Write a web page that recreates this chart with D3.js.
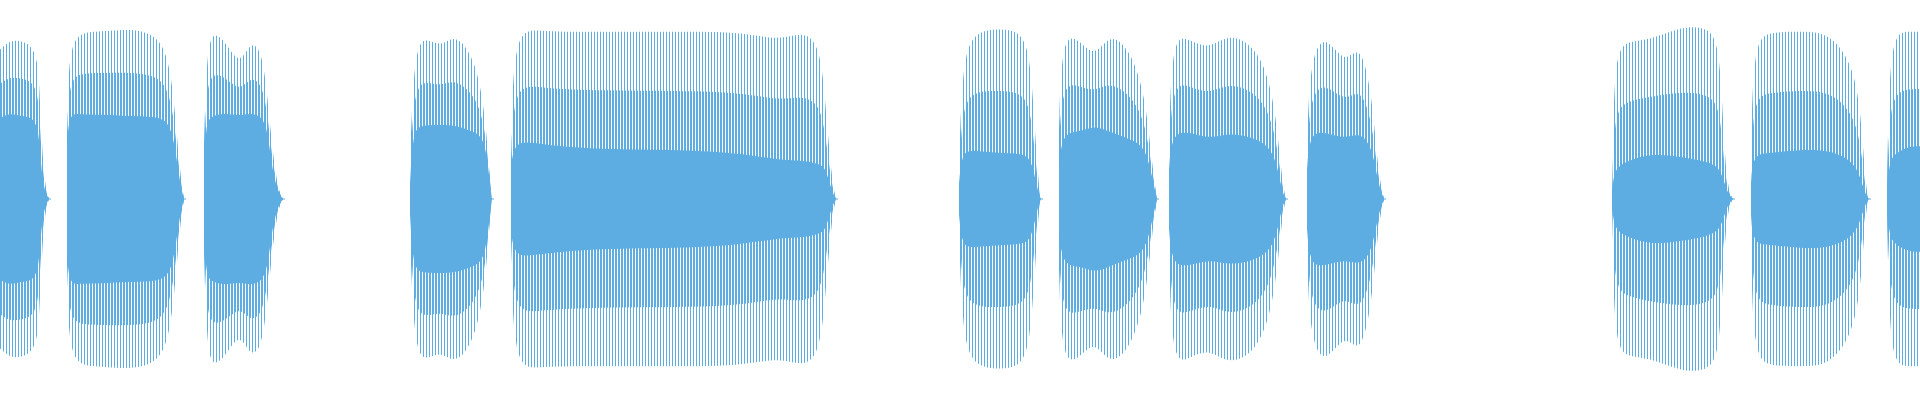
<!DOCTYPE html>
<html>
<head>
<meta charset="utf-8">
<script src="https://cdn.jsdelivr.net/npm/d3@7"></script>
<style>
  body { margin: 0; background: #fff; }
  svg { display: block; }
</style>
</head>
<body>
<svg id="chart" width="1920" height="400"></svg>
<script>
// time in seconds, amplitude normalised to [-1, 1]
// each burst: [time, dense core amplitude, peak amplitude]
var burst1 = [[0.00, .46, .85], [0.10, .49, .90], [0.20, .47, .90], [0.30, .47, .88], [0.38, .42, .80], [0.40, .26, .55], [0.43, .09, .20], [0.46, .03, .05], [0.49, 0, 0]];
var burst2 = [[0.67, .30, .45], [0.69, .49, .85], [0.80, .48, .95], [1.00, .48, .95], [1.30, .47, .97], [1.60, .47, .93], [1.70, .42, .75], [1.75, .30, .50], [1.80, .09, .15], [1.84, 0, 0]];
var burst3 = [[2.04, .17, .30], [2.06, .42, .70], [2.10, .47, .97], [2.25, .49, .90], [2.40, .47, .75], [2.50, .49, .90], [2.62, .47, .85], [2.68, .38, .55], [2.72, .17, .30], [2.78, .04, .05], [2.83, 0, 0]];
var burst4 = [[4.10, .09, .20], [4.13, .38, .70], [4.20, .42, .95], [4.40, .42, .85], [4.55, .42, .95], [4.75, .38, .80], [4.85, .34, .50], [4.90, .09, .10], [4.92, 0, 0]];
var burst5 = [[5.11, .17, .30], [5.14, .34, .98], [5.40, .31, .95], [6.00, .28, .95], [6.80, .28, .95], [7.40, .26, .95], [7.80, .22, .90], [8.00, .22, .95], [8.20, .20, .90], [8.26, .17, .50], [8.32, .04, .10], [8.36, 0, 0]];
var burst6 = [[9.59, .09, .20], [9.62, .26, .70], [9.70, .28, .95], [10.00, .26, .97], [10.25, .26, .95], [10.32, .21, .70], [10.38, .04, .10], [10.41, 0, 0]];
var burst7 = [[10.59, .17, .40], [10.62, .38, .95], [10.80, .38, .90], [10.95, .42, .80], [11.10, .38, .95], [11.30, .34, .85], [11.45, .30, .60], [11.52, .13, .20], [11.57, 0, 0]];
var burst8 = [[11.69, .17, .30], [11.72, .38, .95], [11.90, .38, .90], [12.10, .34, .85], [12.30, .38, .95], [12.60, .34, .85], [12.75, .26, .55], [12.82, .04, .10], [12.86, 0, 0]];
var burst9 = [[13.07, .17, .30], [13.10, .38, .80], [13.25, .38, .95], [13.45, .34, .75], [13.60, .38, .90], [13.72, .30, .60], [13.78, .09, .15], [13.84, 0, 0]];
var burst10 = [[16.12, .03, .05], [16.14, .17, .80], [16.25, .21, .90], [16.50, .26, .90], [16.80, .24, .98], [17.10, .21, .98], [17.20, .17, .85], [17.24, .10, .30], [17.28, .03, .05], [17.33, 0, 0]];
var burst11 = [[17.51, .09, .20], [17.53, .26, .90], [17.70, .26, .95], [18.00, .28, .95], [18.30, .28, .95], [18.55, .21, .75], [18.62, .09, .40], [18.66, .02, .05], [18.69, 0, 0]];
var burst12 = [[18.87, .02, .05], [18.89, .21, .70], [18.95, .26, .95], [19.10, .30, .95], [19.20, .30, .95]];

var bursts = [burst1, burst2, burst3, burst4, burst5, burst6, burst7, burst8, burst9, burst10, burst11, burst12];

var width = 1920, height = 400;
var color = '#5dade2';

var svg = d3.select('#chart');

var x = d3.scaleLinear().domain([0, 19.2]).range([0, width]);
var y = d3.scaleLinear().domain([-1, 1]).range([199 + 176, 199 - 176]);

var defs = svg.append('defs');

// thin vertical strokes for the sparse peak region
var pattern = defs.append('pattern')
    .attr('id', 'peaks')
    .attr('patternUnits', 'userSpaceOnUse')
    .attr('width', 3)
    .attr('height', height);
pattern.append('rect')
    .attr('x', 0).attr('y', 0)
    .attr('width', 1).attr('height', height)
    .attr('fill', color);

// denser strokes between core and peaks
var pattern2 = defs.append('pattern')
    .attr('id', 'mid')
    .attr('patternUnits', 'userSpaceOnUse')
    .attr('width', 3)
    .attr('height', height);
pattern2.append('rect')
    .attr('x', 0).attr('y', 0)
    .attr('width', 2).attr('height', height)
    .attr('fill', color);

var peakArea = d3.area()
    .curve(d3.curveBasis)
    .x(function (d) { return x(d[0]); })
    .y0(function (d) { return y(-d[2]); })
    .y1(function (d) { return y(d[2]); });

var midArea = d3.area()
    .curve(d3.curveBasis)
    .x(function (d) { return x(d[0]); })
    .y0(function (d) { return y(-(d[1] + d[2]) / 2); })
    .y1(function (d) { return y((d[1] + d[2]) / 2); });

var coreArea = d3.area()
    .curve(d3.curveBasis)
    .x(function (d) { return x(d[0]); })
    .y0(function (d) { return y(-d[1]); })
    .y1(function (d) { return y(d[1]); });

var g = svg.append('g');

g.selectAll('path.peak')
  .data(bursts)
  .enter().append('path')
    .attr('class', 'peak')
    .attr('d', peakArea)
    .attr('fill', 'url(#peaks)');

g.selectAll('path.mid')
  .data(bursts)
  .enter().append('path')
    .attr('class', 'mid')
    .attr('d', midArea)
    .attr('fill', 'url(#mid)');

g.selectAll('path.core')
  .data(bursts)
  .enter().append('path')
    .attr('class', 'core')
    .attr('d', coreArea)
    .attr('fill', color);

// flat baseline stubs at the burst tails
g.selectAll('line.tail')
  .data(bursts.slice(0, 11))
  .enter().append('line')
    .attr('x1', function (d) { return x(d[d.length - 1][0]) - 4; })
    .attr('x2', function (d) { return x(d[d.length - 1][0]) + 2; })
    .attr('y1', y(0)).attr('y2', y(0))
    .attr('stroke', color)
    .attr('stroke-width', 1);
</script>
</body>
</html>
